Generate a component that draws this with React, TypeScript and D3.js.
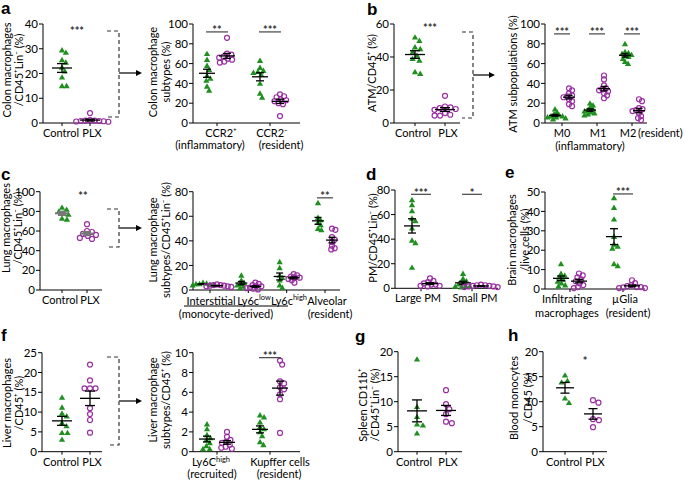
import React from 'react';
import * as d3 from 'd3';

// ---------------- DATA ----------------
// a: colon
const colonTotalControl = [29.5, 28.5, 25.5, 24.5, 22.5, 21, 18.5, 15, 15];
const colonTotalPLX = [4, 1.2, 1, 1, 0.8, 0.8, 0.7, 0.6, 0.5];
const colonSubCats = ['CCR2⁺', 'CCR2⁻'];
const colonSubControl = [
  [70, 64, 58, 54, 48, 45, 43, 37, 33],
  [63, 56, 53, 52, 51, 49, 40, 30, 26],
];
const colonSubPLX = [
  [86, 70, 69, 67, 66, 65, 64, 62, 61],
  [29, 27, 26, 24, 23, 22, 20, 19, 7],
];
const colonSubSig = ['**', '***'];

// b: adipose tissue macrophages
const atmTotalControl = [52, 50, 46, 45, 43, 41, 39, 38, 31, 30];
const atmTotalPLX = [16.5, 10, 9.5, 9, 8.5, 8, 6, 5, 4.5, 4.5];
const atmSubCats = ['M0', 'M1', 'M2'];
const atmSubControl = [
  [14, 11, 9, 8, 7, 7, 6, 6, 5, 4],
  [20, 18, 16, 14, 13, 12, 11, 10, 9, 8],
  [80, 72, 71, 70, 69, 68, 67, 65, 62, 60],
];
const atmSubPLX = [
  [35, 33, 30, 28, 27, 26, 24, 22, 19, 17],
  [48, 44, 38, 35, 34, 33, 32, 30, 28, 25],
  [24, 22, 15, 14, 13, 12, 10, 7, 5, 3],
];
const atmSubSig = ['***', '***', '***'];

// c: lung
const lungTotalControl = [84, 82, 80, 78, 77, 73, 72];
const lungTotalPLX = [67, 60, 59, 57, 56, 55, 53, 52];
const lungSubCats = ['Interstitial', 'Ly6c^low', 'Ly6c^high', 'Alveolar'];
const lungSubControl = [
  [6, 5.5, 5, 5, 4.5, 4, 4],
  [12, 8, 6, 5, 4, 3, 1.5],
  [23, 18, 12, 10, 8, 4, 2],
  [71, 59, 57, 55, 53, 50, 49],
];
const lungSubPLX = [
  [4.5, 4, 4, 3.5, 3.5, 3, 3, 2.5],
  [6, 5, 4, 3, 3, 2, 1.5, 1, 0.5],
  [13, 12, 11, 10, 10, 9, 8, 6],
  [50, 49, 43, 41, 39, 36, 34, 33],
];
const lungSubSig = [null, null, null, '**'];

// d: peritoneal macrophages
const pmCats = ['Large PM', 'Small PM'];
const pmControl = [
  [72, 68, 63, 57, 55, 49, 39, 37, 17],
  [12, 8, 6, 4.5, 3.5, 2, 1.5, 1.5, 1],
];
const pmPLX = [
  [8, 6, 5, 4, 3, 3, 2, 2, 1.5],
  [3, 2.5, 2.5, 2, 2, 1.5, 1.5, 1, 1],
];
const pmSig = ['***', '*'];

// e: brain
const brainCats = ['Infiltrating', 'µGlia'];
const brainControl = [
  [13, 8, 7, 6, 5, 4, 3, 2, 1.5],
  [47, 42, 36, 27, 23, 22, 21, 13, 12],
];
const brainPLX = [
  [8, 7, 6, 5, 4, 3, 2, 1, 0.5],
  [4.5, 3, 2, 1.5, 1, 1, 0.8, 0.5, 0.5],
];
const brainSig = [null, '***'];

// f: liver
const liverTotalControl = [13.7, 11.2, 9.7, 9, 7.3, 6.5, 4.8, 4.8, 3.1];
const liverTotalPLX = [22, 18, 16, 16, 16, 11, 9.5, 8, 4.8];
const liverSubCats = ['Ly6C^high', 'Kupffer cells'];
const liverSubControl = [
  [2.8, 2.3, 1.7, 1.4, 1.2, 0.9, 0.6, 0.3, 0.3],
  [3.7, 3.5, 3, 2.5, 2.3, 2, 1.6, 1, 0.7],
];
const liverSubPLX = [
  [2, 1.5, 1.2, 1, 0.9, 0.7, 0.5, 0.4, 0.3],
  [9.2, 8.8, 7.1, 6.9, 6.5, 6.3, 5.8, 5.3, 1.9],
];
const liverSubSig = [null, '***'];

// g: spleen, h: blood
const spleenControl = [18.5, 9, 7, 5.5, 5.3, 3.7];
const spleenPLX = [12.3, 9.5, 8.5, 7.5, 6, 5.7];
const bloodControl = [15.3, 14.2, 13.9, 10.7, 9.8];
const bloodPLX = [10.3, 9.8, 6.5, 6.3, 4.9];

const groupCats = ['Control', 'PLX'];

// ---------------- STYLE ----------------
const GREEN = '#1f8f1f';
const PURPLE = '#9a2fa3';
const FONT = 'Lato, "Liberation Sans", Arial, sans-serif';
const TICK_FS = 11.5;
const CAT_FS = 11;
const YLAB_FS = 11;

type Group = { cat: number; off: number; kind: 'c' | 'p'; vals: number[] };
type Sig = { text: string; value: number; bar?: boolean; cat?: number; x?: number };
type Extra = { text: string; x: number; dy: number; anchor?: string };

interface PanelCfg {
  x0: number; x1: number; yTop: number; y0: number; max: number; step: number;
  cats: string[]; catRange: [number, number]; labelX?: number[]; labelDy?: number;
  groups: Group[]; half: number; meanHalf: number; capHalf: number; swarmD: number;
  meanColor?: string; meanWidth?: number;
  sig: Sig[]; yLabel: string[]; yLabelX: number[]; yLabelCY: number;
  extras?: Extra[];
}

function twoGroup(c: number[], p: number[]): Group[] {
  return [{ cat: 0, off: 0, kind: 'c', vals: c }, { cat: 1, off: 0, kind: 'p', vals: p }];
}
function paired(c: number[][], p: number[][], half: number): Group[] {
  const out: Group[] = [];
  c.forEach((v, i) => {
    out.push({ cat: i, off: -half, kind: 'c', vals: v });
    out.push({ cat: i, off: half, kind: 'p', vals: p[i] });
  });
  return out;
}
function pairedSig(s: (string | null)[], value: number): Sig[] {
  const out: Sig[] = [];
  s.forEach((t, i) => { if (t) out.push({ text: t, value, bar: true, cat: i }); });
  return out;
}

function swarm(vals: number[], y: (v: number) => number, d: number) {
  const pts = vals.map(v => ({ v, y: y(v), x: 0 }));
  const order = pts.slice().sort((a, b) => a.y - b.y);
  const placed: { v: number; y: number; x: number }[] = [];
  for (const p of order) {
    const cands = [0];
    for (const q of placed) {
      const dy = Math.abs(q.y - p.y);
      if (dy < d) {
        const dx = Math.sqrt(d * d - dy * dy);
        cands.push(q.x + dx + 0.01, q.x - dx - 0.01);
      }
    }
    cands.sort((a, b) => Math.abs(a) - Math.abs(b));
    for (const c of cands) {
      if (placed.every(q => (q.x - c) ** 2 + (q.y - p.y) ** 2 >= d * d - 0.05)) { p.x = c; break; }
    }
    placed.push(p);
  }
  return pts;
}

function RichText({ text, x, y, fs, anchor = 'middle' }: { text: string; x: number; y: number; fs: number; anchor?: string }) {
  const [main, sup] = text.split('^');
  return (
    <text x={x} y={y} fontSize={fs} textAnchor={anchor as any} fontFamily={FONT}>
      {main}
      {sup !== undefined && <tspan fontSize={fs * 0.68} dy={-fs * 0.38}>{sup}</tspan>}
    </text>
  );
}

const triPath = d3.symbol(d3.symbolTriangle, 17)() as string;

function Panel({ cfg }: { cfg: PanelCfg }) {
  const y = d3.scaleLinear().domain([0, cfg.max]).range([cfg.y0, cfg.yTop]);
  const xc = d3.scalePoint<number>().domain(cfg.cats.map((_, i) => i)).range(cfg.catRange);
  const ticks = d3.range(0, cfg.max + 0.001, cfg.step);
  const mc = cfg.meanColor || '#000';
  const mw = cfg.meanWidth || 1.3;
  return (
    <g>
      <line x1={cfg.x0} x2={cfg.x0} y1={cfg.yTop} y2={cfg.y0} stroke="#000" strokeWidth={1} />
      <line x1={cfg.x0} x2={cfg.x1} y1={cfg.y0} y2={cfg.y0} stroke="#000" strokeWidth={1} />
      {ticks.map(t => (
        <g key={t}>
          <line x1={cfg.x0 - 4} x2={cfg.x0} y1={y(t)} y2={y(t)} stroke="#000" />
          <text x={cfg.x0 - 5} y={y(t)} dy="0.36em" fontSize={TICK_FS} textAnchor="end" fontFamily={FONT}>{t}</text>
        </g>
      ))}
      {cfg.cats.map((c, i) => (
        <g key={c}>
          <line x1={xc(i)!} x2={xc(i)!} y1={cfg.y0} y2={cfg.y0 + 3} stroke="#000" />
          <RichText text={c} x={cfg.labelX ? cfg.labelX[i] : xc(i)!} y={cfg.y0 + (cfg.labelDy || 14)} fs={CAT_FS} />
        </g>
      ))}
      {(cfg.extras || []).map((e, i) => (
        <text key={i} x={e.x} y={cfg.y0 + e.dy} fontSize={CAT_FS} textAnchor={(e.anchor || 'middle') as any} fontFamily={FONT}>{e.text}</text>
      ))}
      {cfg.yLabel.map((l, i) => (
        <text key={i} transform={`translate(${cfg.yLabelX[i]},${cfg.yLabelCY}) rotate(-90)`} fontSize={YLAB_FS} textAnchor="middle" fontFamily={FONT}>{l}</text>
      ))}
      {cfg.groups.map((g, gi) => {
        const cx = xc(g.cat)! + g.off;
        const pts = swarm(g.vals, y, cfg.swarmD);
        const mean = d3.mean(g.vals)!;
        const sem = d3.deviation(g.vals)! / Math.sqrt(g.vals.length);
        return (
          <g key={gi}>
            {pts.map((p, pi) => g.kind === 'c'
              ? <path key={pi} d={triPath} transform={`translate(${cx + p.x},${p.y + 0.6})`} fill={GREEN} />
              : <circle key={pi} cx={cx + p.x} cy={p.y} r={2.5} fill="none" stroke={PURPLE} strokeWidth={1.2} />)}
            <line x1={cx - cfg.meanHalf} x2={cx + cfg.meanHalf} y1={y(mean)} y2={y(mean)} stroke={mc} strokeWidth={mw} />
            <line x1={cx} x2={cx} y1={y(mean - sem)} y2={y(mean + sem)} stroke={mc} strokeWidth={mw} />
            <line x1={cx - cfg.capHalf} x2={cx + cfg.capHalf} y1={y(mean + sem)} y2={y(mean + sem)} stroke={mc} strokeWidth={mw} />
            <line x1={cx - cfg.capHalf} x2={cx + cfg.capHalf} y1={y(mean - sem)} y2={y(mean - sem)} stroke={mc} strokeWidth={mw} />
          </g>
        );
      })}
      {cfg.sig.map((s, i) => {
        const sx = s.x !== undefined ? s.x : xc(s.cat!)!;
        const yy = y(s.value);
        return (
          <g key={i}>
            {s.bar && <line x1={sx - cfg.half - 1} x2={sx + cfg.half + 1} y1={yy} y2={yy} stroke="#444" strokeWidth={1.2} />}
            <text x={sx} y={s.bar ? yy + 2.5 : yy + 6} fontSize={11} fontWeight="bold" textAnchor="middle" fontFamily={FONT} fill="#333">{s.text}</text>
          </g>
        );
      })}
    </g>
  );
}

function Bracket({ xa, xb, top, bottom, arrowY, arrowEnd }: { xa: number; xb: number; top: number; bottom: number; arrowY: number; arrowEnd: number }) {
  return (
    <g>
      <path d={`M${xa},${top}H${xb}V${bottom}H${xa}`} fill="none" stroke="#333" strokeWidth={1.2} strokeDasharray="4,3" />
      <line x1={xb} x2={arrowEnd - 5} y1={arrowY} y2={arrowY} stroke="#666" strokeWidth={2} />
      <path d={`M${arrowEnd - 6},${arrowY - 3}L${arrowEnd},${arrowY}L${arrowEnd - 6},${arrowY + 3}Z`} fill="#000" />
    </g>
  );
}

const panels: PanelCfg[] = [
  { // a left
    x0: 43, x1: 102, yTop: 24, y0: 123, max: 40, step: 10,
    cats: groupCats, catRange: [62, 90], labelX: [61, 92],
    groups: twoGroup(colonTotalControl, colonTotalPLX), half: 0, meanHalf: 10, capHalf: 5, swarmD: 4.6,
    sig: [{ text: '***', value: 38, x: 77 }],
    yLabel: ['Colon macrophages', '/CD45⁺Lin⁻ (%)'], yLabelX: [11, 23], yLabelCY: 70,
  },
  { // a right
    x0: 193, x1: 300, yTop: 24, y0: 123, max: 100, step: 20,
    cats: colonSubCats, catRange: [217, 270], labelX: [221, 272],
    groups: paired(colonSubControl, colonSubPLX, 10), half: 10, meanHalf: 8, capHalf: 4, swarmD: 4.5,
    sig: pairedSig(colonSubSig, 92),
    yLabel: ['Colon macrophage', 'subtypes (%)'], yLabelX: [157, 170], yLabelCY: 72,
    extras: [{ text: '(inflammatory)', x: 210, dy: 26 }, { text: '(resident)', x: 281, dy: 26 }],
  },
  { // b left
    x0: 394, x1: 460, yTop: 24, y0: 123, max: 60, step: 20,
    cats: groupCats, catRange: [415, 445], labelX: [413, 448],
    groups: twoGroup(atmTotalControl, atmTotalPLX), half: 0, meanHalf: 10, capHalf: 5, swarmD: 5.5,
    sig: [{ text: '***', value: 59, x: 430 }],
    yLabel: ['ATM/CD45⁺ (%)'], yLabelX: [376], yLabelCY: 73,
  },
  { // b right
    x0: 545, x1: 647, yTop: 24, y0: 123, max: 100, step: 20,
    cats: atmSubCats, catRange: [562, 632], labelX: [562, 598, 628],
    groups: paired(atmSubControl, atmSubPLX, 7), half: 7, meanHalf: 6, capHalf: 3.5, swarmD: 3.6,
    sig: pairedSig(atmSubSig, 90),
    yLabel: ['ATM subpopulations (%)'], yLabelX: [517], yLabelCY: 74,
    extras: [{ text: '(resident)', x: 638, dy: 14, anchor: 'start' }, { text: '(inflammatory)', x: 590, dy: 26.5 }],
  },
  { // c left
    x0: 40, x1: 102, yTop: 191.7, y0: 290, max: 100, step: 20,
    cats: groupCats, catRange: [62, 87], labelX: [60, 90],
    groups: twoGroup(lungTotalControl, lungTotalPLX), half: 0, meanHalf: 7, capHalf: 4, swarmD: 5,
    meanColor: '#777', meanWidth: 2,
    sig: [{ text: '**', value: 98, x: 83 }],
    yLabel: ['Lung macrophages', '/CD45⁺Lin⁻ (%)'], yLabelX: [10, 22], yLabelCY: 228,
  },
  { // c right
    x0: 193, x1: 340, yTop: 191.7, y0: 290, max: 80, step: 20,
    cats: lungSubCats, catRange: [210, 325], labelX: [211, 254, 289, 327], labelDy: 14.5,
    groups: paired(lungSubControl, lungSubPLX, 7), half: 7, meanHalf: 6, capHalf: 3.5, swarmD: 3.6,
    sig: pairedSig(lungSubSig, 75),
    yLabel: ['Lung macrophage', 'subtypes/CD45⁺Lin⁻ (%)'], yLabelX: [157, 170], yLabelCY: 240,
    extras: [{ text: '(monocyte-derived)', x: 226, dy: 28 }, { text: '(resident)', x: 330, dy: 28 }],
  },
  { // d
    x0: 395, x1: 498, yTop: 190, y0: 288.3, max: 80, step: 20,
    cats: pmCats, catRange: [421, 472], labelX: [418, 475],
    groups: paired(pmControl, pmPLX, 9), half: 9, meanHalf: 8, capHalf: 4, swarmD: 4.2,
    sig: pairedSig(pmSig, 76.5),
    yLabel: ['PM/CD45⁺Lin⁻ (%)'], yLabelX: [377], yLabelCY: 238,
  },
  { // e
    x0: 545, x1: 645, yTop: 192, y0: 289, max: 50, step: 10,
    cats: brainCats, catRange: [570, 623], labelX: [567, 625],
    groups: paired(brainControl, brainPLX, 9), half: 9, meanHalf: 8, capHalf: 4, swarmD: 4.2,
    sig: pairedSig(brainSig, 49),
    yLabel: ['Brain macrophages', '/live cells (%)'], yLabelX: [516, 529], yLabelCY: 240,
    extras: [{ text: 'macrophages', x: 567, dy: 28 }, { text: '(resident)', x: 628, dy: 28 }],
  },
  { // f left
    x0: 42, x1: 102, yTop: 352.7, y0: 451.7, max: 25, step: 5,
    cats: groupCats, catRange: [62, 90], labelX: [61, 92],
    groups: twoGroup(liverTotalControl, liverTotalPLX), half: 0, meanHalf: 10, capHalf: 5, swarmD: 5.5,
    sig: [],
    yLabel: ['Liver macrophages', '/CD45⁺ (%)'], yLabelX: [10.5, 22.5], yLabelCY: 403,
  },
  { // f right
    x0: 193, x1: 300, yTop: 352.7, y0: 451.7, max: 10, step: 2,
    cats: liverSubCats, catRange: [217, 270], labelX: [211, 280],
    groups: paired(liverSubControl, liverSubPLX, 10), half: 10, meanHalf: 8, capHalf: 4, swarmD: 4.5,
    sig: pairedSig(liverSubSig, 9.5),
    yLabel: ['Liver macrophage', 'subtypes/CD45⁺ (%)'], yLabelX: [157, 170], yLabelCY: 400,
    extras: [{ text: '(recruited)', x: 212, dy: 26 }, { text: '(resident)', x: 279, dy: 26 }],
  },
  { // g
    x0: 398, x1: 462, yTop: 351.7, y0: 451.7, max: 20, step: 5,
    cats: groupCats, catRange: [417, 446], labelX: [414, 448],
    groups: twoGroup(spleenControl, spleenPLX), half: 0, meanHalf: 10, capHalf: 5, swarmD: 6,
    sig: [],
    yLabel: ['Spleen CD11b⁺', '/CD45⁺Lin⁻ (%)'], yLabelX: [367, 379], yLabelCY: 405,
  },
  { // h
    x0: 543, x1: 607, yTop: 351.7, y0: 451.7, max: 20, step: 5,
    cats: groupCats, catRange: [565, 593], labelX: [564, 595],
    groups: twoGroup(bloodControl, bloodPLX), half: 0, meanHalf: 9, capHalf: 4.5, swarmD: 6,
    sig: [{ text: '*', value: 18.5, x: 585 }],
    yLabel: ['Blood monocytes', '/CD45 (%)'], yLabelX: [518, 532], yLabelCY: 398,
  },
];

const letters = [
  { t: 'a', x: 1, y: 14 }, { t: 'b', x: 367, y: 15 }, { t: 'c', x: 1, y: 180 },
  { t: 'd', x: 366, y: 180 }, { t: 'e', x: 505, y: 178 }, { t: 'f', x: 1, y: 341 },
  { t: 'g', x: 355, y: 342 }, { t: 'h', x: 508, y: 341 },
];

export default function App() {
  return (
    <svg width={685} height={480} style={{ position: 'absolute', left: 0, top: 0, background: '#fff' }}>
      <rect width={685} height={480} fill="#fff" />
      {panels.map((p, i) => <Panel key={i} cfg={p} />)}
      <Bracket xa={107} xb={119} top={31} bottom={117} arrowY={73} arrowEnd={142} />
      <Bracket xa={462} xb={473} top={32} bottom={118} arrowY={75} arrowEnd={495} />
      <Bracket xa={107} xb={119} top={209} bottom={247} arrowY={228} arrowEnd={142} />
      <Bracket xa={107} xb={119} top={357} bottom={445} arrowY={401} arrowEnd={142} />
      <line x1={184} x2={288} y1={306} y2={306} stroke="#000" strokeWidth={1} />
      {letters.map(l => (
        <text key={l.t} x={l.x} y={l.y} fontSize={17} fontWeight="bold" fontFamily='"Liberation Sans", Arial, sans-serif'>{l.t}</text>
      ))}
    </svg>
  );
}
